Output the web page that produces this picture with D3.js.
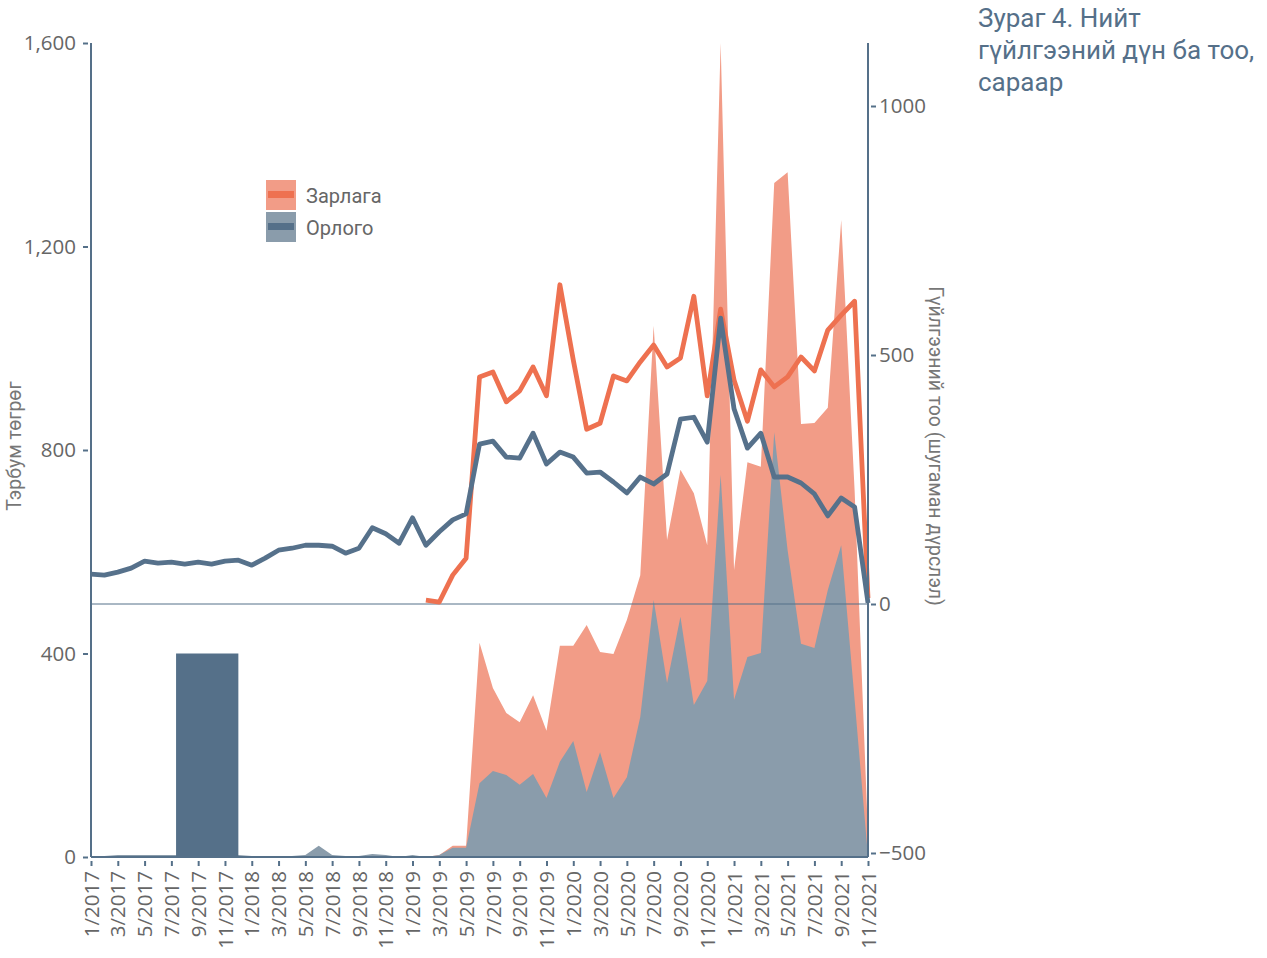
<!DOCTYPE html>
<html>
<head>
<meta charset="utf-8">
<script src="https://cdn.jsdelivr.net/npm/d3@7"></script>
<style>
  body { margin: 0; background: #fff; }
  svg { display: block; }
</style>
</head>
<body>
<div id="vis"></div>
<script>
// months 1/2017 .. 11/2021
var months = [];
for (var yr = 2017; yr <= 2021; yr++) {
    for (var m = 1; m <= 12; m++) {
        if (yr == 2021 && m > 11) break;
        months.push(m + "/" + yr);
    }
}

// гүйлгээний тоо (right axis, lines)
var orlogoCount = [60, 58, 64, 72, 86, 82, 84, 80, 84, 80, 86, 88,
                   78, 92, 108, 112, 118, 118, 116, 102, 112, 153, 141, 122,
                   173, 118, 145, 169, 181, 321, 327, 295, 293, 343, 281, 305,
                   295, 263, 265, 245, 223, 255, 241, 261, 371, 375, 325, 574,
                   392, 313, 343, 255, 255, 243, 221, 177, 213, 195, 2];
var zarlagaCount = [null, null, null, null, null, null, null, null, null, null, null, null,
                    null, null, null, null, null, null, null, null, null, null, null, null,
                    null, 8, 4, 58, 92, 456, 466, 406, 428, 476, 418, 641,
                    490, 351, 363, 458, 448, 486, 520, 476, 494, 618, 418, 592,
                    450, 367, 470, 436, 456, 496, 468, 550, 580, 608, 12];

// гүйлгээний дүн, тэрбум төгрөг (left axis, areas)
var zarlagaAmount = [null, null, null, null, null, null, null, null, null, null, null, null,
                     null, null, null, null, null, null, null, null, null, null, null, null,
                     null, 0, 4, 22, 22, 421, 332, 283, 265, 318, 248, 415,
                     415, 456, 403, 399, 466, 554, 1044, 623, 761, 715, 613, 1600,
                     564, 776, 767, 1325, 1346, 851, 853, 883, 1252, 721, 43];
var orlogoAmount = [0, 2, 4, 4, 4, 4, 4, 4, 4, 4, 4, 4,
                    2, 2, 2, 2, 4, 22, 4, 2, 2, 6, 4, 0,
                    4, 0, 4, 18, 18, 145, 169, 161, 142, 163, 116, 187,
                    228, 128, 206, 116, 157, 275, 505, 342, 472, 299, 346, 751,
                    309, 393, 401, 835, 603, 419, 411, 525, 613, 309, 0];

// dark block on the Орлого area (month index range, value)
var blockFrom = 6.35;
var blockTo = 11;
var blockValue = 400;

var leftTicks = [0, 400, 800, 1200, 1600];
var rightTicks = [-500, 0, 500, 1000];
var titleLines = ["Зураг 4. Нийт", "гүйлгээний дүн ба тоо,", "сараар"];

var W = 1267, H = 958;
var x0 = 91, x1 = 868, yTop = 43, yBot = 857;

var svg = d3.select("#vis").append("svg")
    .attr("width", W)
    .attr("height", H);

var xScale = d3.scaleLinear()
    .domain([0, months.length - 1])
    .range([x0, x1]);

var yLeft = d3.scaleLinear()
    .domain([0, 1600])
    .range([yBot, yTop]);

var yRight = d3.scaleLinear()
    .domain([0, 1000])
    .range([604, 106]);

var axisCol = "#557089";
var textCol = "#666666";
var tickFont = "20.5px";

//Areas
var areaZ = d3.area()
    .defined(function(d) { return d != null; })
    .x(function(d, i) { return xScale(i); })
    .y0(yLeft(0))
    .y1(function(d) { return yLeft(d); });

svg.append("path")
    .datum(zarlagaAmount)
    .attr("d", areaZ)
    .attr("fill", "#f29c87");

svg.append("path")
    .datum(orlogoAmount)
    .attr("d", areaZ)
    .attr("fill", "#8a9cab");

svg.append("rect")
    .attr("x", xScale(blockFrom))
    .attr("width", xScale(blockTo) - xScale(blockFrom))
    .attr("y", yLeft(blockValue))
    .attr("height", yLeft(0) - yLeft(blockValue))
    .attr("fill", "#557089");

//zero line of right axis
svg.append("line")
    .attr("x1", x0).attr("x2", x1)
    .attr("y1", yRight(0)).attr("y2", yRight(0))
    .attr("stroke", axisCol)
    .attr("stroke-width", 1);

//Lines
var line = d3.line()
    .defined(function(d) { return d != null; })
    .x(function(d, i) { return xScale(i); })
    .y(function(d) { return yRight(d); });

svg.append("path")
    .datum(zarlagaCount)
    .attr("d", line)
    .attr("fill", "none")
    .attr("stroke", "#ee7150")
    .attr("stroke-width", 4.8)
    .attr("stroke-linejoin", "round");

svg.append("path")
    .datum(orlogoCount)
    .attr("d", line)
    .attr("fill", "none")
    .attr("stroke", "#56718b")
    .attr("stroke-width", 4.8)
    .attr("stroke-linejoin", "round");

//Axis lines
svg.append("line").attr("x1", x0).attr("x2", x0).attr("y1", yTop).attr("y2", yBot)
    .attr("stroke", axisCol).attr("stroke-width", 2);
svg.append("line").attr("x1", x1).attr("x2", x1).attr("y1", yTop).attr("y2", yBot)
    .attr("stroke", axisCol).attr("stroke-width", 2);
svg.append("line").attr("x1", x0).attr("x2", x1).attr("y1", yBot).attr("y2", yBot)
    .attr("stroke", axisCol).attr("stroke-width", 2);

//Left axis
var gl = svg.append("g")
    .attr("transform", "translate(" + x0 + ",0)")
    .call(d3.axisLeft(yLeft).tickValues(leftTicks).tickFormat(d3.format(",")).tickSizeOuter(0));
gl.select(".domain").remove();
gl.selectAll(".tick line").attr("x1", -8).attr("x2", -3)
    .attr("stroke", axisCol).attr("stroke-width", 2);
gl.selectAll(".tick text").attr("x", -15)
    .attr("fill", textCol)
    .style("font-family", "'Open Sans', sans-serif")
    .style("font-size", tickFont);

//Right axis
var gr = svg.append("g")
    .attr("transform", "translate(" + x1 + ",0)")
    .call(d3.axisRight(yRight).tickValues(rightTicks).tickFormat(d3.format("d")).tickSizeOuter(0));
gr.select(".domain").remove();
gr.selectAll(".tick line").attr("x1", 3).attr("x2", 8)
    .attr("stroke", axisCol).attr("stroke-width", 2);
gr.selectAll(".tick text").attr("x", 11)
    .attr("fill", textCol)
    .style("font-family", "'Open Sans', sans-serif")
    .style("font-size", tickFont);

//Bottom axis
var gb = svg.append("g")
    .attr("transform", "translate(0," + yBot + ")")
    .call(d3.axisBottom(xScale)
        .tickValues(d3.range(0, months.length, 2))
        .tickFormat(function(i) { return months[i]; })
        .tickSizeOuter(0));
gb.select(".domain").remove();
gb.selectAll(".tick line").attr("y1", 4).attr("y2", 9)
    .attr("stroke", axisCol).attr("stroke-width", 2);
gb.selectAll(".tick text")
    .attr("transform", "rotate(-90)")
    .attr("x", -14)
    .attr("y", 0)
    .attr("dy", "0.35em")
    .style("text-anchor", "end")
    .attr("fill", textCol)
    .style("font-family", "'Open Sans', sans-serif")
    .style("font-size", tickFont);

//Axis titles
svg.append("text")
    .attr("transform", "translate(21,446) rotate(-90)")
    .attr("text-anchor", "middle")
    .attr("fill", "#777")
    .style("font-family", "Roboto, sans-serif")
    .style("font-size", "19.5px")
    .text("Тэрбум төгрөг");

svg.append("text")
    .attr("transform", "translate(929,446) rotate(90)")
    .attr("text-anchor", "middle")
    .attr("fill", "#777")
    .style("font-family", "Roboto, sans-serif")
    .style("font-size", "19.5px")
    .text("Гүйлгээний тоо (шугаман дүрслэл)");

//Legend
var legend = [
    {name: "Зарлага", fill: "#f29c87", stroke: "#ee7150"},
    {name: "Орлого", fill: "#8a9cab", stroke: "#557089"}
];
var lg = svg.selectAll(".legend")
    .data(legend)
    .enter()
    .append("g")
    .attr("transform", function(d, i) { return "translate(266," + (180 + i * 32) + ")"; });
lg.append("rect").attr("width", 30).attr("height", 30).attr("fill", function(d) { return d.fill; });
lg.append("rect").attr("x", 2).attr("y", 11).attr("width", 26).attr("height", 7)
    .attr("fill", function(d) { return d.stroke; });
lg.append("text")
    .attr("x", 40).attr("y", 16)
    .attr("dy", "0.35em")
    .attr("fill", textCol)
    .style("font-family", "Roboto, sans-serif")
    .style("font-size", "20px")
    .text(function(d) { return d.name; });

//Title
svg.append("g").selectAll("text")
    .data(titleLines)
    .enter()
    .append("text")
    .attr("x", 978)
    .attr("y", function(d, i) { return 27 + i * 32; })
    .attr("fill", "#557089")
    .style("font-family", "Roboto, sans-serif")
    .style("font-size", "26px")
    .text(function(d) { return d; });
</script>
</body>
</html>
